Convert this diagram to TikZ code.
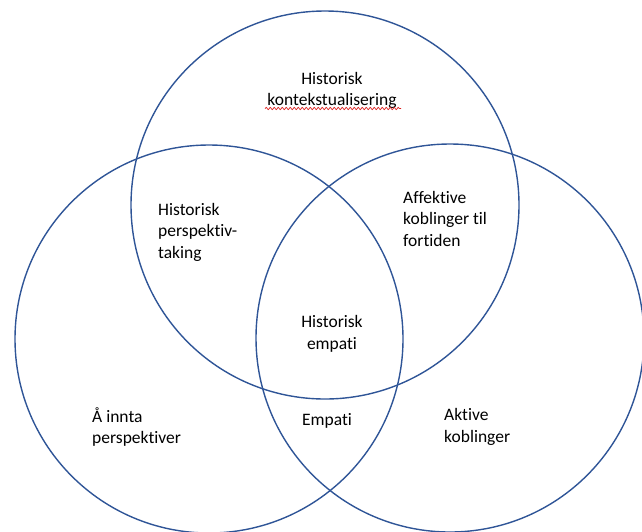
\documentclass[tikz,border=0pt]{standalone}
\usepackage{fontspec}
\setmainfont{Carlito}[Ligatures={NoCommon},RawFeature={-liga}]
\usepackage{xcolor}
\usepackage{tikz}
\usetikzlibrary{
  positioning,
  decorations.pathmorphing
}
\definecolor{vennblue}{RGB}{47,85,151}
\definecolor{spellred}{RGB}{220,30,30}

\begin{document}
\begin{tikzpicture}[x=1pt,y=-1pt,
  venn/.style ={draw=vennblue,line width=1.4pt,circle,minimum size=388pt,
                inner sep=0pt},
  lbl/.style  ={inner sep=0pt,font=\fontsize{17.5}{21.5}\selectfont},
  lblc/.style ={lbl,align=center,anchor=center},
  lbll/.style ={lbl,align=left,anchor=west},
  squiggle/.style={spellred,line width=0.7pt,
                   decorate,decoration={snake,amplitude=1.1pt,segment length=4pt}},
]
\useasboundingbox (0,0) rectangle (642,531);

% the three circles
\node[venn] (kontekst) at (325,205) {};
\node[venn] (innta)    at (209,339) {};
\node[venn] (aktive)   at (450,338) {};

% single areas
\node[lblc] (kontekstlbl) at (332,90.5) {Historisk\\kontekstualisering};
\node[lbll] (inntalbl)    at (92,427)   {Å innta\\perspektiver};
\node[lbll] (aktivelbl)   at (444,427)  {Aktive\\koblinger};

% overlaps
\node[lbll] (perspektiv)  at (158,232.3) {Historisk\\perspektiv-\\taking};
\node[lbll] (affektive)   at (403,218.7) {Affektive\\koblinger til\\fortiden};
\node[lblc] (empati)      at (327,421)   {Empati};
\node[lblc] (histempati)  at (332,334)   {Historisk\\empati};

% spell-check mark
\draw[squiggle] (265,108.5) -- (401,108.5);
\end{tikzpicture}
\end{document}
